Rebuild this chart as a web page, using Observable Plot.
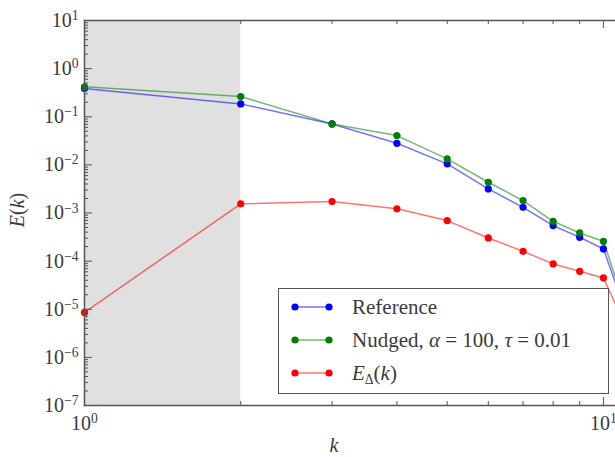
<!DOCTYPE html>
<html>
<head>
<meta charset="utf-8">
<script src="https://cdn.jsdelivr.net/npm/d3@7"></script>
<script src="https://cdn.jsdelivr.net/npm/@observablehq/plot@0.6"></script>
<style>
  body { margin: 0; background: #fff; }
  #wrap { position: relative; width: 615px; height: 457px; overflow: hidden;
          font-family: "Liberation Serif", "DejaVu Serif", serif; color: #3a3a3a; }
  .legend { position: absolute; left: 278px; top: 288px; width: 331px; height: 106px;
            border: 1.5px solid #555; background: #fff; box-sizing: border-box; }
  .entry { position: absolute; left: 12px; height: 24px; display: flex; align-items: center;
           font-size: 21px; white-space: nowrap; }
  .entry svg { margin-right: 19px; }
  .ylabel { position: absolute; left: 17px; top: 210px; transform: translate(-50%, -50%) rotate(-90deg);
            font-size: 20px; white-space: nowrap; }
  .xlabel { position: absolute; left: 334px; top: 445px; transform: translate(-50%, -50%);
            font-size: 20px; font-style: italic; }
  i { font-style: italic; }
  sub { font-size: 0.65em; vertical-align: -0.3em; line-height: 0; font-style: normal; }
</style>
</head>
<body>
<div id="wrap"></div>
<script>
// ---- data ----
const k          = [1, 2, 3, 4, 5, 6, 7, 8, 9, 10, 11];
const reference  = [0.385, 0.185, 0.071, 0.0281, 0.0105, 0.00317, 0.00131, 0.000547, 0.000313, 0.000179, 1.0e-5];
const nudged     = [0.42, 0.263, 0.071, 0.0406, 0.0133, 0.00435, 0.00181, 0.000673, 0.000385, 0.000258, 1.2e-5];
const eDelta     = [8.6e-6, 0.00155, 0.00173, 0.00122, 0.000695, 0.000303, 0.00016, 8.75e-5, 6.14e-5, 4.48e-5, 4.8e-6];
const seriesNames  = ["Reference", "Nudged", "EDelta"];
const seriesColors = ["#0000ff", "#008000", "#ff0000"];
const shadedRange  = [1, 2];
const yMajorExp    = [-7, -6, -5, -4, -3, -2, -1, 0, 1];
const xMajorExp    = [0, 1];

// ---- build table ----
const seriesValues = [reference, nudged, eDelta];
const rows = [];
seriesNames.forEach((name, i) => k.forEach((kk, j) => rows.push({series: name, k: kk, E: seriesValues[i][j]})));

const yMajor = yMajorExp.map(e => Math.pow(10, e));
const yMinor = [];
yMajorExp.slice(0, -1).forEach(e => { for (let m = 2; m <= 9; m++) yMinor.push(m * Math.pow(10, e)); });
const xMajor = xMajorExp.map(e => Math.pow(10, e));
const xMinor = [];
for (let m = 2; m <= 9; m++) xMinor.push(m);

const W = 615, H = 457, mL = 84, mT = 20, mB = 52, mR = 0;
const plotW = W - mL - mR, plotH = H - mT - mB;
const tickCol = "#555";
const fmt = v => "10^" + Math.round(Math.log10(v));

const chart = Plot.plot({
  width: W, height: H,
  marginLeft: mL, marginTop: mT, marginBottom: mB, marginRight: mR,
  style: {fontFamily: '"Liberation Serif", "DejaVu Serif", serif', fontSize: "20px", color: "#3a3a3a", background: "transparent"},
  x: {type: "log", domain: [1, 10.55], axis: null},
  y: {type: "log", domain: [1e-7, 10], axis: null},
  color: {domain: seriesNames, range: seriesColors},
  marks: [
    Plot.rect([{x1: shadedRange[0], x2: shadedRange[1]}], {x1: "x1", x2: "x2", fill: "#e0e0e0"}),
    Plot.line(rows, {x: "k", y: "E", z: "series", stroke: "series", strokeWidth: 1.5, strokeOpacity: 0.55}),
    Plot.dot(rows, {x: "k", y: "E", fill: "series", r: 3.6}),
    // inward ticks
    Plot.tickY(yMajor, {y: d => d, insetRight: plotW - 8, stroke: tickCol}),
    Plot.tickY(yMinor, {y: d => d, insetRight: plotW - 4, stroke: tickCol}),
    Plot.tickX(xMajor, {x: d => d, insetTop: plotH - 8, stroke: tickCol}),
    Plot.tickX(xMinor, {x: d => d, insetTop: plotH - 4, stroke: tickCol}),
    Plot.tickX(xMajor, {x: d => d, insetBottom: plotH - 8, stroke: tickCol}),
    Plot.tickX(xMinor, {x: d => d, insetBottom: plotH - 4, stroke: tickCol}),
    Plot.frame({anchor: "left", stroke: tickCol, strokeWidth: 1.5}),
    Plot.frame({anchor: "top", stroke: tickCol, strokeWidth: 1.5}),
    Plot.frame({anchor: "bottom", stroke: tickCol, strokeWidth: 1.5}),
    Plot.axisY(yMajor, {tickFormat: fmt, tickSize: 0, tickPadding: 6, label: null}),
    Plot.axisX(xMajor, {tickFormat: fmt, tickSize: 0, tickPadding: 10, label: null})
  ]
});

// superscript exponents in tick labels
d3.select(chart).selectAll("text").each(function() {
  const t = d3.select(this);
  const s = t.text();
  if (!s.startsWith("10^")) return;
  const exp = s.slice(3).replace("-", "\u2212");
  t.text(null);
  t.append("tspan").text("10");
  t.append("tspan").attr("dy", "-0.5em").attr("font-size", "0.68em").text(exp);
});

const wrap = document.getElementById("wrap");
wrap.appendChild(chart);

// axis labels
const yl = document.createElement("div");
yl.className = "ylabel";
yl.innerHTML = "<i>E</i>(<i>k</i>)";
wrap.appendChild(yl);
const xl = document.createElement("div");
xl.className = "xlabel";
xl.textContent = "k";
wrap.appendChild(xl);

// legend
const legendLabels = ["Reference", "Nudged, <i>α</i> = 100, <i>τ</i> = 0.01", "<i>E</i><sub>Δ</sub>(<i>k</i>)"];
const leg = document.createElement("div");
leg.className = "legend";
seriesNames.forEach((name, i) => {
  const e = document.createElement("div");
  e.className = "entry";
  e.style.top = (6 + i * 33) + "px";
  const c = seriesColors[i];
  e.innerHTML = `<svg width="42" height="10"><line x1="4" y1="5" x2="38" y2="5" stroke="${c}" stroke-opacity="0.55" stroke-width="1.5"/><circle cx="4" cy="5" r="3.6" fill="${c}"/><circle cx="38" cy="5" r="3.6" fill="${c}"/></svg><span>${legendLabels[i]}</span>`;
  leg.appendChild(e);
});
wrap.appendChild(leg);
</script>
</body>
</html>
